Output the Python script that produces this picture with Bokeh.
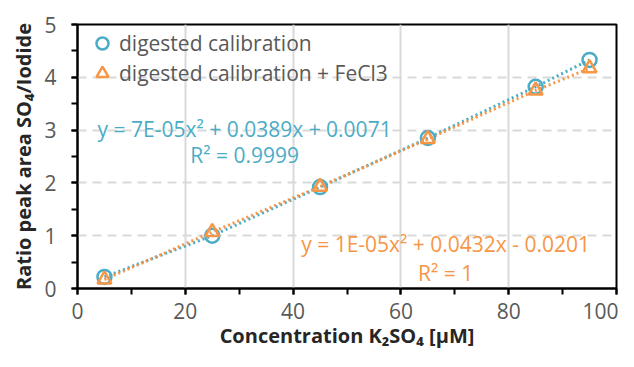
from bokeh.plotting import figure
from bokeh.models import (Range1d, SingleIntervalTicker, Legend, LegendItem, Label)
from bokeh.embed import file_html
from bokeh.resources import INLINE

# data
conc = [5, 25, 45, 65, 85, 95]
ratio_digested = [0.22, 1.00, 1.92, 2.85, 3.82, 4.33]
ratio_fecl3 = [0.17, 1.07, 1.93, 2.83, 3.75, 4.17]
series_names = ["digested calibration", "digested calibration + FeCl3"]
eq_blue = ["y = 7E-05x\u00b2 + 0.0389x + 0.0071", "R\u00b2 = 0.9999"]
eq_orange = ["y = 1E-05x\u00b2 + 0.0432x - 0.0201", "R\u00b2 = 1"]

BLUE = "#4BACC6"
ORANGE = "#F79646"
GREY_TXT = "#595959"
FONT = "Open Sans"

p = figure(frame_width=539, frame_height=264, output_backend="svg", toolbar_location=None,
           x_range=Range1d(0, 100), y_range=Range1d(0, 5),
           min_border_left=77, min_border_right=2, min_border_top=24, min_border_bottom=63)
p.outline_line_color = "black"
p.outline_line_width = 2
p.background_fill_color = "white"
p.border_fill_color = "white"

p.xaxis.ticker = SingleIntervalTicker(interval=20, num_minor_ticks=2)
p.yaxis.ticker = SingleIntervalTicker(interval=1, num_minor_ticks=2)

for ax in (p.xaxis, p.yaxis):
    ax.axis_line_color = "black"
    ax.axis_line_width = 2
    ax.major_tick_line_color = "black"
    ax.minor_tick_line_color = "black"
    ax.major_tick_line_width = 2
    ax.minor_tick_line_width = 2
    ax.major_tick_in = 0
    ax.major_tick_out = 6
    ax.minor_tick_in = 0
    ax.minor_tick_out = 6
    ax.major_label_text_font = FONT
    ax.major_label_text_font_size = "21px"
    ax.major_label_text_color = GREY_TXT
    ax.axis_label_text_font = FONT
    ax.axis_label_text_font_style = "bold"
    ax.axis_label_text_font_size = "20px"
    ax.axis_label_text_color = "#262626"

p.xaxis.major_label_standoff = 8
p.yaxis.major_label_standoff = 15
p.xaxis.axis_label = "Concentration K\u2082SO\u2084 [\u00b5M]"
p.yaxis.axis_label = "Ratio peak area SO\u2084/Iodide"
p.xaxis.axis_label_standoff = 0
p.yaxis.axis_label_standoff = 4

p.xgrid.grid_line_color = "#D9D9D9"
p.xgrid.grid_line_width = 2
p.ygrid.grid_line_color = "#D9D9D9"
p.ygrid.grid_line_width = 2
p.ygrid.grid_line_dash = "9 6"

# trend lines (dotted) connecting points
p.line(conc, ratio_digested, line_color=BLUE, line_width=3, line_dash="2 3")
p.line(conc, ratio_fecl3, line_color=ORANGE, line_width=3, line_dash="2 3")

r1 = p.scatter(conc, ratio_digested, marker="circle", size=14, fill_color=None,
               line_color=BLUE, line_width=2.5)
r2 = p.scatter(conc, ratio_fecl3, marker="triangle", size=14, fill_color=None,
               line_color=ORANGE, line_width=2.5)

legend = Legend(items=[LegendItem(label=series_names[0], renderers=[r1]),
                       LegendItem(label=series_names[1], renderers=[r2])],
                location=(10, 200), margin=0, padding=0, spacing=0,
                glyph_width=30, glyph_height=30, label_standoff=2,
                label_text_font=FONT, label_text_font_size="21px",
                label_text_color=GREY_TXT, background_fill_alpha=0,
                border_line_color=None)
p.add_layout(legend)

for txt, y in zip(eq_blue, [3.03, 2.52]):
    p.add_layout(Label(x=31.0, y=y, text=txt, text_align="center", text_baseline="middle",
                       text_color=BLUE, text_font=FONT, text_font_size="21px"))
for txt, y in zip(eq_orange, [0.85, 0.30]):
    p.add_layout(Label(x=68.3, y=y, text=txt, text_align="center", text_baseline="middle",
                       text_color=ORANGE, text_font=FONT, text_font_size="21px"))

open("out.html", "w").write(file_html(p, INLINE))
